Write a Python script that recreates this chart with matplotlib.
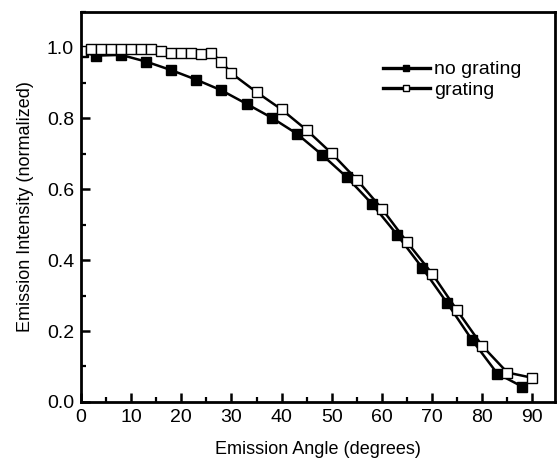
import numpy as np
import matplotlib.pyplot as plt
from matplotlib.ticker import MultipleLocator

# ---- data ----
angle_no = [0.5, 3, 8, 13, 18, 23, 28, 33, 38, 43, 48, 53, 58, 63, 68, 73, 78, 83, 88]
int_no = [0.986, 0.977, 0.979, 0.960, 0.936, 0.909, 0.879, 0.841, 0.802, 0.757,
          0.698, 0.634, 0.559, 0.472, 0.379, 0.279, 0.174, 0.080, 0.043]

angle_gr = [0, 2, 4, 6, 8, 10, 12, 14, 16, 18, 20, 22, 24, 26, 28, 30,
            35, 40, 45, 50, 55, 60, 65, 70, 75, 80, 85, 90]
int_gr = [0.990, 0.995, 0.995, 0.995, 0.995, 0.995, 0.995, 0.995, 0.990, 0.985,
          0.983, 0.983, 0.981, 0.984, 0.960, 0.927, 0.874, 0.825, 0.767, 0.701,
          0.627, 0.545, 0.451, 0.362, 0.258, 0.158, 0.083, 0.068]

plt.rcParams['font.family'] = ['Liberation Sans', 'DejaVu Sans']

fig = plt.figure(figsize=(5.57, 4.62), dpi=100)
ax = fig.add_axes([0.1454, 0.13, 0.851, 0.844])

ax.plot(angle_no, int_no, color='black', lw=1.8, marker='s', ms=6.5,
        mfc='black', mec='black', label='no grating')
ax.plot(angle_gr, int_gr, color='black', lw=1.8, marker='s', ms=6.5,
        mfc='white', mec='black', mew=1.0, label='grating')

ax.set_xlim(0, 94.5)
ax.set_ylim(0, 1.1)
ax.xaxis.set_major_locator(MultipleLocator(10))
ax.xaxis.set_minor_locator(MultipleLocator(5))
ax.yaxis.set_major_locator(MultipleLocator(0.2))
ax.yaxis.set_minor_locator(MultipleLocator(0.1))
ax.yaxis.set_major_formatter(plt.FormatStrFormatter('%.1f'))

ax.tick_params(which='major', direction='in', length=6.5, width=1.8,
               labelsize=14, pad=5)
ax.tick_params(which='minor', direction='in', length=3.5, width=1.6)
for s in ax.spines.values():
    s.set_linewidth(2.0)

ax.set_xlabel('Emission Angle (degrees)', fontsize=13, labelpad=11)
ax.set_ylabel('Emission Intensity (normalized)', fontsize=13, labelpad=9)

leg = ax.legend(loc='upper left', bbox_to_anchor=(0.6, 0.92), frameon=False,
                fontsize=14, handlelength=2.4, handletextpad=0.25,
                labelspacing=0.15, markerscale=0.65)
for h in leg.get_lines():
    h.set_linewidth(2.4)

fig.savefig('out.png', dpi=100)
